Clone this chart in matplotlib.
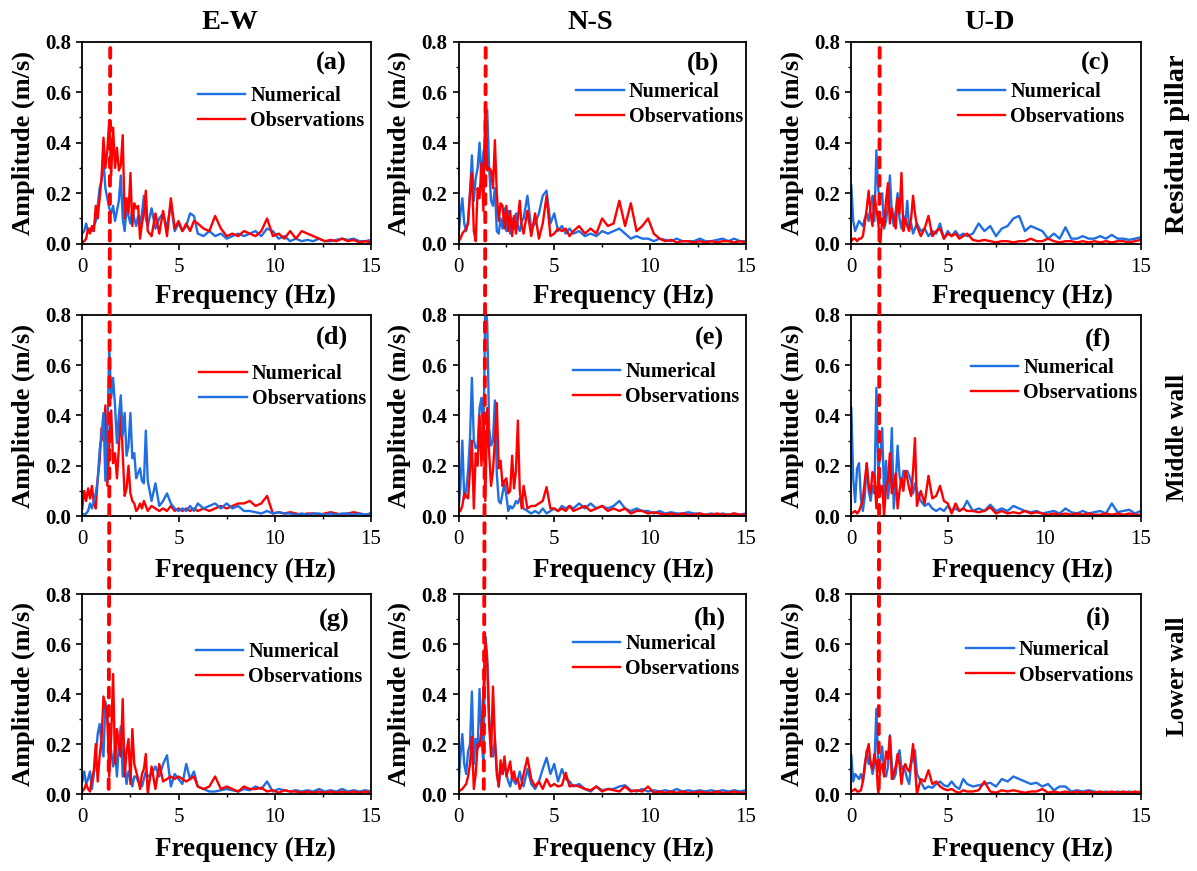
import numpy as np
import matplotlib
matplotlib.use('Agg')
import matplotlib.pyplot as plt
from matplotlib.patches import ConnectionPatch
from matplotlib.ticker import MultipleLocator

plt.rcParams['font.family'] = ['Liberation Serif', 'DejaVu Serif']

# frequency axis (Hz): fine spacing where the spectra are busy, coarser in the tail
freq = np.round(np.concatenate([np.arange(0.0, 3.45, 0.1),
                                np.arange(3.6, 6.05, 0.2),
                                np.arange(6.3, 15.05, 0.3)]), 2)

# ---- Residual pillar ----
ew_pillar_num = [0.04, 0.05, 0.08, 0.05, 0.06, 0.05, 0.07, 0.09, 0.15, 0.22, 0.25, 0.33, 0.22, 0.18, 0.14, 0.12, 0.15, 0.09,
                 0.13, 0.17, 0.27, 0.10, 0.05, 0.14, 0.11, 0.08, 0.14, 0.10, 0.07, 0.11, 0.08, 0.12, 0.19, 0.10, 0.07,
                 0.14, 0.06, 0.10, 0.12, 0.06, 0.16, 0.05, 0.08, 0.05, 0.07, 0.12, 0.11, 0.04,
                 0.03, 0.05, 0.03, 0.04, 0.02, 0.03, 0.04, 0.03, 0.04, 0.05, 0.03, 0.06, 0.05, 0.02, 0.03, 0.01, 0.02, 0.01,
                 0.015, 0.01, 0.02, 0.01, 0.01, 0.015, 0.02, 0.015, 0.02, 0.01, 0.01, 0.015]
ew_pillar_obs = [0.005, 0.01, 0.02, 0.06, 0.04, 0.07, 0.05, 0.15, 0.10, 0.18, 0.26, 0.42, 0.30, 0.37, 0.49, 0.27, 0.46, 0.30,
                 0.38, 0.29, 0.31, 0.43, 0.10, 0.18, 0.12, 0.28, 0.07, 0.16, 0.14, 0.15, 0.02, 0.08, 0.12, 0.21, 0.05,
                 0.03, 0.12, 0.04, 0.13, 0.03, 0.18, 0.06, 0.09, 0.05, 0.08, 0.05, 0.09, 0.08,
                 0.06, 0.05, 0.11, 0.06, 0.03, 0.04, 0.03, 0.05, 0.04, 0.03, 0.05, 0.10, 0.03, 0.04, 0.02, 0.05, 0.02, 0.05,
                 0.04, 0.03, 0.02, 0.01, 0.015, 0.01, 0.02, 0.01, 0.015, 0.005, 0.01, 0.005]
ns_pillar_num = [0.03, 0.12, 0.18, 0.08, 0.05, 0.09, 0.20, 0.35, 0.17, 0.26, 0.30, 0.40, 0.25, 0.36, 0.40, 0.53, 0.30, 0.17,
                 0.15, 0.22, 0.05, 0.04, 0.10, 0.06, 0.14, 0.05, 0.13, 0.04, 0.10, 0.06, 0.12, 0.07, 0.05, 0.09, 0.10,
                 0.19, 0.06, 0.08, 0.12, 0.19, 0.21, 0.08, 0.12, 0.05, 0.07, 0.04, 0.06, 0.04,
                 0.05, 0.03, 0.04, 0.03, 0.05, 0.04, 0.05, 0.06, 0.04, 0.02, 0.03, 0.02, 0.02, 0.01, 0.02, 0.015, 0.01, 0.02,
                 0.01, 0.01, 0.01, 0.02, 0.01, 0.01, 0.015, 0.02, 0.01, 0.02, 0.01, 0.01]
ns_pillar_obs = [0.01, 0.02, 0.04, 0.05, 0.06, 0.08, 0.20, 0.28, 0.05, 0.01, 0.22, 0.18, 0.32, 0.13, 0.56, 0.29, 0.30, 0.29,
                 0.22, 0.41, 0.20, 0.09, 0.16, 0.15, 0.06, 0.15, 0.05, 0.13, 0.03, 0.11, 0.04, 0.10, 0.17, 0.07, 0.04,
                 0.13, 0.03, 0.12, 0.02, 0.08, 0.19, 0.03, 0.04, 0.06, 0.05, 0.06, 0.03, 0.05,
                 0.07, 0.04, 0.06, 0.04, 0.10, 0.07, 0.08, 0.17, 0.07, 0.16, 0.05, 0.07, 0.10, 0.04, 0.02, 0.01, 0.015, 0.005,
                 0.01, 0.01, 0.005, 0.01, 0.005, 0.01, 0.005, 0.01, 0.01, 0.005, 0.01, 0.005]
ud_pillar_num = [0.23, 0.09, 0.05, 0.07, 0.09, 0.08, 0.07, 0.10, 0.12, 0.09, 0.15, 0.19, 0.09, 0.37, 0.21, 0.18, 0.20, 0.06,
                 0.09, 0.15, 0.27, 0.12, 0.07, 0.13, 0.20, 0.10, 0.06, 0.11, 0.08, 0.17, 0.06, 0.08, 0.04, 0.06, 0.08,
                 0.05, 0.06, 0.03, 0.05, 0.04, 0.08, 0.02, 0.05, 0.03, 0.05, 0.03, 0.04, 0.03,
                 0.04, 0.08, 0.05, 0.07, 0.03, 0.06, 0.07, 0.10, 0.11, 0.05, 0.07, 0.06, 0.05, 0.02, 0.04, 0.02, 0.065, 0.02,
                 0.02, 0.03, 0.02, 0.02, 0.03, 0.02, 0.035, 0.02, 0.02, 0.015, 0.02, 0.025]
ud_pillar_obs = [0.01, 0.02, 0.02, 0.01, 0.02, 0.02, 0.03, 0.08, 0.14, 0.21, 0.12, 0.07, 0.19, 0.14, 0.08, 0.0, 0.10, 0.07,
                 0.17, 0.24, 0.08, 0.14, 0.10, 0.06, 0.18, 0.12, 0.28, 0.05, 0.10, 0.07, 0.05, 0.10, 0.19, 0.12, 0.07,
                 0.03, 0.06, 0.11, 0.03, 0.05, 0.06, 0.02, 0.04, 0.03, 0.04, 0.02, 0.03, 0.04,
                 0.015, 0.01, 0.015, 0.01, 0.005, 0.01, 0.01, 0.005, 0.01, 0.01, 0.02, 0.01, 0.01, 0.02, 0.01, 0.005, 0.01, 0.01,
                 0.005, 0.01, 0.005, 0.01, 0.005, 0.01, 0.005, 0.01, 0.01, 0.005, 0.01, 0.015]

# ---- Middle wall ----
ew_middle_num = [0.03, 0.10, 0.06, 0.11, 0.07, 0.12, 0.05, 0.03, 0.15, 0.22, 0.35, 0.30, 0.44, 0.12, 0.28, 0.42, 0.21, 0.25,
                 0.15, 0.27, 0.42, 0.25, 0.08, 0.11, 0.20, 0.09, 0.06, 0.05, 0.02, 0.03, 0.05, 0.03, 0.06, 0.04, 0.02,
                 0.04, 0.03, 0.02, 0.03, 0.02, 0.04, 0.02, 0.03, 0.02, 0.03, 0.02, 0.03, 0.02,
                 0.03, 0.02, 0.03, 0.04, 0.03, 0.04, 0.05, 0.05, 0.06, 0.04, 0.05, 0.08, 0.01, 0.015, 0.01, 0.015, 0.01, 0.005,
                 0.01, 0.01, 0.005, 0.01, 0.015, 0.01, 0.005, 0.01, 0.015, 0.01, 0.005, 0.01]
ew_middle_obs = [0.01, 0.005, 0.01, 0.02, 0.05, 0.03, 0.06, 0.09, 0.14, 0.26, 0.32, 0.41, 0.14, 0.30, 0.67, 0.47, 0.55, 0.44,
                 0.29, 0.40, 0.48, 0.32, 0.41, 0.24, 0.28, 0.41, 0.23, 0.25, 0.15, 0.17, 0.19, 0.14, 0.13, 0.34, 0.14,
                 0.06, 0.13, 0.04, 0.06, 0.09, 0.05, 0.03, 0.02, 0.03, 0.02, 0.04, 0.02, 0.05,
                 0.03, 0.04, 0.05, 0.03, 0.05, 0.03, 0.04, 0.02, 0.02, 0.015, 0.01, 0.02, 0.01, 0.015, 0.01, 0.01, 0.005, 0.01,
                 0.005, 0.01, 0.01, 0.005, 0.01, 0.005, 0.01, 0.01, 0.005, 0.01, 0.005, 0.01]
ns_middle_num = [0.02, 0.12, 0.30, 0.07, 0.10, 0.18, 0.31, 0.55, 0.30, 0.27, 0.28, 0.43, 0.47, 0.27, 0.85, 0.77, 0.35, 0.28,
                 0.30, 0.46, 0.17, 0.06, 0.05, 0.09, 0.13, 0.08, 0.02, 0.04, 0.03, 0.04, 0.06, 0.05, 0.07, 0.075, 0.03,
                 0.02, 0.01, 0.02, 0.01, 0.03, 0.01, 0.02, 0.03, 0.02, 0.04, 0.03, 0.04, 0.03,
                 0.05, 0.03, 0.05, 0.03, 0.04, 0.03, 0.04, 0.06, 0.03, 0.02, 0.03, 0.02, 0.02, 0.01, 0.02, 0.01, 0.015, 0.01,
                 0.01, 0.015, 0.01, 0.01, 0.005, 0.01, 0.005, 0.01, 0.005, 0.01, 0.005, 0.01]
ns_middle_obs = [0.015, 0.02, 0.04, 0.09, 0.08, 0.07, 0.18, 0.30, 0.03, 0.25, 0.20, 0.40, 0.20, 0.41, 0.06, 0.43, 0.25, 0.12,
                 0.18, 0.30, 0.45, 0.19, 0.22, 0.12, 0.14, 0.15, 0.09, 0.10, 0.24, 0.11, 0.18, 0.38, 0.10, 0.03, 0.12,
                 0.03, 0.04, 0.04, 0.05, 0.06, 0.115, 0.03, 0.03, 0.02, 0.03, 0.02, 0.04, 0.02,
                 0.03, 0.04, 0.02, 0.03, 0.04, 0.02, 0.03, 0.02, 0.03, 0.01, 0.02, 0.02, 0.01, 0.015, 0.01, 0.005, 0.01, 0.005,
                 0.01, 0.005, 0.005, 0.01, 0.005, 0.005, 0.01, 0.005, 0.005, 0.01, 0.005, 0.005]
ud_middle_num = [0.43, 0.15, 0.055, 0.19, 0.21, 0.07, 0.02, 0.08, 0.21, 0.10, 0.06, 0.12, 0.09, 0.51, 0.19, 0.23, 0.35, 0.08,
                 0.22, 0.07, 0.14, 0.35, 0.03, 0.13, 0.28, 0.16, 0.12, 0.18, 0.17, 0.18, 0.16, 0.14, 0.09, 0.13, 0.10,
                 0.06, 0.04, 0.05, 0.03, 0.02, 0.03, 0.02, 0.04, 0.02, 0.03, 0.02, 0.03, 0.06,
                 0.02, 0.03, 0.02, 0.045, 0.02, 0.03, 0.02, 0.04, 0.03, 0.02, 0.015, 0.02, 0.01, 0.015, 0.02, 0.01, 0.03, 0.015,
                 0.01, 0.02, 0.01, 0.015, 0.02, 0.01, 0.05, 0.015, 0.02, 0.025, 0.01, 0.02]
ud_middle_obs = [0.01, 0.015, 0.02, 0.01, 0.02, 0.04, 0.07, 0.14, 0.21, 0.12, 0.09, 0.175, 0.16, 0.03, 0.17, 0.09, 0.12, 0.0,
                 0.12, 0.14, 0.25, 0.09, 0.12, 0.17, 0.03, 0.10, 0.15, 0.10, 0.18, 0.15, 0.11, 0.08, 0.18, 0.31, 0.04,
                 0.10, 0.05, 0.16, 0.07, 0.08, 0.12, 0.06, 0.05, 0.01, 0.05, 0.02, 0.03, 0.02,
                 0.02, 0.015, 0.02, 0.035, 0.01, 0.02, 0.01, 0.015, 0.01, 0.02, 0.01, 0.015, 0.01, 0.005, 0.01, 0.005, 0.01, 0.005,
                 0.01, 0.005, 0.01, 0.005, 0.005, 0.01, 0.005, 0.01, 0.005, 0.01, 0.005, 0.005]

# ---- Lower wall ----
ew_lower_num = [0.05, 0.09, 0.04, 0.06, 0.09, 0.02, 0.08, 0.15, 0.24, 0.28, 0.20, 0.15, 0.37, 0.30, 0.22, 0.17, 0.11, 0.18,
                0.07, 0.20, 0.27, 0.07, 0.12, 0.04, 0.09, 0.08, 0.03, 0.07, 0.07, 0.05, 0.04, 0.03, 0.06, 0.09, 0.07,
                0.08, 0.11, 0.07, 0.12, 0.155, 0.03, 0.08, 0.06, 0.04, 0.12, 0.06, 0.09, 0.03,
                0.02, 0.01, 0.01, 0.015, 0.02, 0.015, 0.01, 0.02, 0.015, 0.03, 0.02, 0.05, 0.01, 0.02, 0.015, 0.01, 0.015, 0.01,
                0.015, 0.01, 0.02, 0.01, 0.015, 0.01, 0.02, 0.01, 0.015, 0.01, 0.015, 0.01]
ew_lower_obs = [0.01, 0.02, 0.04, 0.02, 0.01, 0.06, 0.095, 0.20, 0.05, 0.15, 0.22, 0.39, 0.35, 0.31, 0.07, 0.23, 0.48, 0.12,
                0.26, 0.20, 0.15, 0.38, 0.07, 0.17, 0.22, 0.04, 0.26, 0.12, 0.09, 0.06, 0.02, 0.08, 0.10, 0.16, 0.0,
                0.11, 0.02, 0.12, 0.05, 0.06, 0.07, 0.06, 0.07, 0.06, 0.05, 0.06, 0.07, 0.03,
                0.02, 0.03, 0.07, 0.02, 0.03, 0.02, 0.01, 0.03, 0.02, 0.02, 0.025, 0.01, 0.015, 0.005, 0.015, 0.01, 0.01, 0.005,
                0.01, 0.005, 0.01, 0.005, 0.01, 0.005, 0.01, 0.005, 0.01, 0.005, 0.01, 0.005]
ns_lower_num = [0.03, 0.15, 0.24, 0.12, 0.08, 0.17, 0.20, 0.41, 0.12, 0.22, 0.18, 0.42, 0.23, 0.12, 0.63, 0.55, 0.31, 0.20,
                0.15, 0.22, 0.10, 0.03, 0.10, 0.08, 0.12, 0.08, 0.05, 0.03, 0.07, 0.05, 0.04, 0.06, 0.09, 0.05, 0.03,
                0.10, 0.04, 0.02, 0.05, 0.10, 0.145, 0.08, 0.12, 0.05, 0.10, 0.06, 0.05, 0.03,
                0.04, 0.02, 0.01, 0.03, 0.015, 0.02, 0.02, 0.03, 0.035, 0.015, 0.01, 0.02, 0.01, 0.015, 0.01, 0.015, 0.01, 0.02,
                0.01, 0.015, 0.01, 0.015, 0.01, 0.015, 0.01, 0.015, 0.01, 0.015, 0.01, 0.015]
ns_lower_obs = [0.01, 0.015, 0.02, 0.03, 0.04, 0.07, 0.12, 0.23, 0.02, 0.08, 0.20, 0.19, 0.26, 0.40, 0.62, 0.52, 0.28, 0.15,
                0.43, 0.22, 0.08, 0.03, 0.135, 0.08, 0.15, 0.07, 0.10, 0.13, 0.06, 0.09, 0.05, 0.06, 0.02, 0.04, 0.08,
                0.145, 0.06, 0.03, 0.05, 0.02, 0.06, 0.03, 0.04, 0.03, 0.035, 0.085, 0.03, 0.035,
                0.03, 0.02, 0.015, 0.03, 0.01, 0.02, 0.015, 0.01, 0.03, 0.01, 0.015, 0.01, 0.03, 0.005, 0.01, 0.005, 0.01, 0.005,
                0.01, 0.005, 0.005, 0.01, 0.005, 0.005, 0.01, 0.005, 0.005, 0.01, 0.005, 0.005]
ud_lower_num = [0.155, 0.05, 0.08, 0.07, 0.06, 0.08, 0.05, 0.10, 0.175, 0.12, 0.13, 0.08, 0.12, 0.34, 0.11, 0.13, 0.19, 0.08,
                0.07, 0.11, 0.235, 0.12, 0.06, 0.08, 0.15, 0.175, 0.10, 0.11, 0.09, 0.06, 0.04, 0.12, 0.14, 0.175, 0.08,
                0.05, 0.02, 0.03, 0.025, 0.04, 0.05, 0.035, 0.03, 0.05, 0.03, 0.02, 0.06, 0.04,
                0.03, 0.035, 0.04, 0.045, 0.03, 0.06, 0.05, 0.07, 0.06, 0.05, 0.04, 0.045, 0.03, 0.04, 0.015, 0.03, 0.03, 0.01,
                0.015, 0.01, 0.015, 0.01, 0.005, 0.01, 0.005, 0.01, 0.005, 0.01, 0.005, 0.01]
ud_lower_obs = [0.01, 0.015, 0.02, 0.01, 0.01, 0.015, 0.05, 0.12, 0.165, 0.20, 0.12, 0.10, 0.16, 0.12, 0.0, 0.10, 0.12, 0.07,
                0.17, 0.14, 0.23, 0.06, 0.08, 0.11, 0.16, 0.12, 0.04, 0.10, 0.12, 0.10, 0.09, 0.13, 0.20, 0.11, 0.0,
                0.06, 0.05, 0.095, 0.04, 0.05, 0.03, 0.02, 0.015, 0.02, 0.01, 0.005, 0.015, 0.01,
                0.01, 0.015, 0.05, 0.01, 0.005, 0.015, 0.01, 0.015, 0.01, 0.005, 0.01, 0.01, 0.02, 0.005, 0.01, 0.005, 0.01, 0.005,
                0.01, 0.005, 0.01, 0.005, 0.01, 0.005, 0.01, 0.005, 0.01, 0.005, 0.01, 0.005]

components = ['E-W', 'N-S', 'U-D']
locations = ['Residual pillar', 'Middle wall', 'Lower wall']
tags = ['(a)', '(b)', '(c)', '(d)', '(e)', '(f)', '(g)', '(h)', '(i)']
spectra = [[(ew_pillar_num, ew_pillar_obs), (ns_pillar_num, ns_pillar_obs), (ud_pillar_num, ud_pillar_obs)],
           [(ew_middle_num, ew_middle_obs), (ns_middle_num, ns_middle_obs), (ud_middle_num, ud_middle_obs)],
           [(ew_lower_num, ew_lower_obs), (ns_lower_num, ns_lower_obs), (ud_lower_num, ud_lower_obs)]]

# dominant frequency marked by the dashed line (top and bottom end of each column)
peak_top = [1.45, 1.42, 1.47]
peak_bottom = [1.37, 1.32, 1.42]

BLUE = '#1f6fe3'
RED = '#ff0000'

W, H = 1197, 871
col_left = [82.3, 458.5, 851.3]
col_width = [288.7, 287.2, 289.4]
row_top = [41.7, 315.0, 594.0]
row_bottom = [243.7, 516.0, 794.0]
xlabel_x = [0.567, 0.576, 0.59]
xlabel_y = [-0.2, -0.21, -0.215]
legend_pos = [[(0.40, 0.668), (0.41, 0.689), (0.369, 0.688)],
              [(0.405, 0.642), (0.398, 0.655), (0.413, 0.672)],
              [(0.394, 0.648), (0.398, 0.687), (0.398, 0.655)]]
tag_pos = [[(0.864, 0.893), (0.851, 0.893), (0.844, 0.893)],
           [(0.864, 0.889), (0.875, 0.881), (0.854, 0.88)],
           [(0.872, 0.87), (0.877, 0.878), (0.854, 0.878)]]
title_x = [0.512, 0.458, 0.479]
rowlabel_y = [144, 437, 676]
rowlabel_size = [20.5, 18, 18]

fig = plt.figure(figsize=(W / 100, H / 100), dpi=100)
axes = [[None] * 3 for _ in range(3)]

for r in range(3):
    for c in range(3):
        ax = fig.add_axes([col_left[c] / W, 1 - row_bottom[r] / H,
                           col_width[c] / W, (row_bottom[r] - row_top[r]) / H])
        axes[r][c] = ax
        num, obs = spectra[r][c]
        # middle-wall E-W panel uses swapped colours
        if r == 1 and c == 0:
            num_col, obs_col = RED, BLUE
        else:
            num_col, obs_col = BLUE, RED
        ax.plot(freq, num, color=num_col, lw=1.7, label='Numerical')
        ax.plot(freq, obs, color=obs_col, lw=1.7, label='Observations')

        ax.set_xlim(0, 15)
        ax.set_ylim(0, 0.8)
        ax.set_xticks([0, 5, 10, 15])
        ax.set_xticklabels(['0', '5', '10', '15'], fontsize=15)
        yt = [0.0, 0.2, 0.4, 0.6, 0.8]
        ax.set_yticks(yt)
        ax.set_yticklabels([f'{v:.1f}' for v in yt], fontsize=15, fontweight='bold')
        ax.xaxis.set_minor_locator(MultipleLocator(2.5))
        ax.yaxis.set_minor_locator(MultipleLocator(0.1))
        ax.tick_params(which='major', length=4, width=1.2, direction='out')
        ax.tick_params(which='minor', length=2.5, width=1.0, direction='out')
        ax.tick_params(axis='x', which='major', pad=6)
        ax.tick_params(axis='y', which='major', pad=4)
        for sp in ax.spines.values():
            sp.set_linewidth(1.3)

        ax.set_xlabel('Frequency (Hz)', fontsize=19.5, fontweight='bold')
        ax.xaxis.set_label_coords(xlabel_x[c], xlabel_y[r])
        ax.set_ylabel('Amplitude (m/s)', fontsize=19, fontweight='bold')
        ax.yaxis.set_label_coords(-0.165, 0.5)

        lx, ly = legend_pos[r][c]
        ax.legend(loc='center left', bbox_to_anchor=(lx, ly), frameon=False,
                  borderaxespad=0, borderpad=0, handlelength=2.35, handletextpad=0.25,
                  labelspacing=0.25, prop={'weight': 'bold', 'size': 14.5})
        tx, ty = tag_pos[r][c]
        ax.text(tx, ty, tags[r * 3 + c], transform=ax.transAxes, ha='center', va='center',
                fontsize=19, fontweight='bold')

for c in range(3):
    axes[0][c].set_title(components[c], x=title_x[c], pad=9, fontsize=20.5, fontweight='bold')
    # dashed marker for the dominant frequency, running through the whole column
    con = ConnectionPatch(xyA=(peak_top[c], 0.775), coordsA=axes[0][c].transData,
                          xyB=(peak_bottom[c], 0.0), coordsB=axes[2][c].transData,
                          color=RED, lw=2.8, linestyle=(0, (2.5, 2.2)), zorder=10)
    fig.add_artist(con)

for r in range(3):
    fig.text(1178 / W, 1 - rowlabel_y[r] / H, locations[r], rotation=90,
             ha='center', va='center', fontsize=rowlabel_size[r], fontweight='bold')

fig.savefig('out.png', dpi=100)
